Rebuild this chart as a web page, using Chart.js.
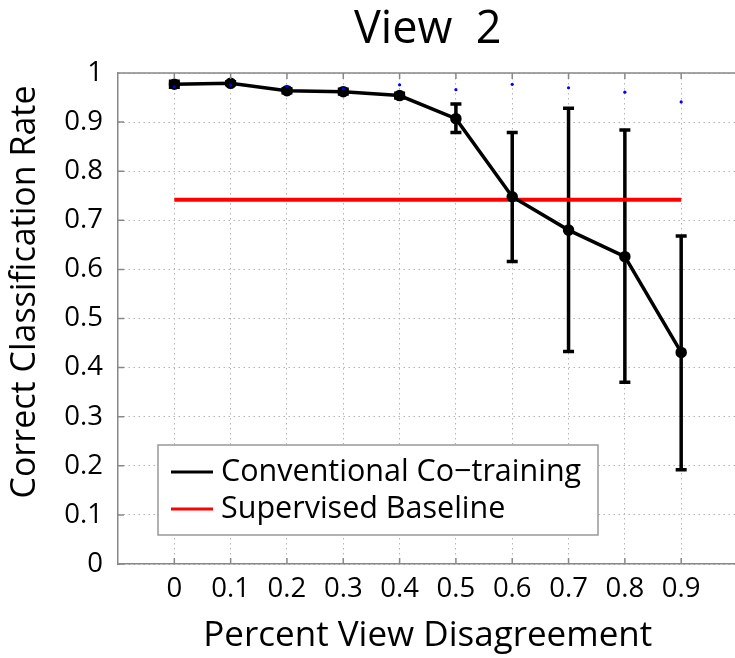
<!DOCTYPE html>
<html>
<head>
<meta charset="utf-8">
<script src="https://cdn.jsdelivr.net/npm/chart.js@4.4.1/dist/chart.umd.min.js"></script>
<style>
  body { margin: 0; background: #fff; }
  #wrap { width: 735px; height: 658px; overflow: hidden; }
</style>
</head>
<body>
<div id="wrap"><canvas id="viewChart" width="745" height="658"></canvas></div>
<script>
// percent view disagreement
const disagreement = [0, 0.1, 0.2, 0.3, 0.4, 0.5, 0.6, 0.7, 0.8, 0.9];
// conventional co-training: mean and error bar ends
const coTrainMean = [0.977, 0.979, 0.964, 0.962, 0.954, 0.907, 0.748, 0.680, 0.626, 0.431];
const coTrainLow  = [0.971, 0.976, 0.960, 0.957, 0.949, 0.879, 0.616, 0.433, 0.370, 0.192];
const coTrainHigh = [0.983, 0.982, 0.968, 0.967, 0.959, 0.937, 0.879, 0.928, 0.884, 0.668];
// small blue markers near the top
const blueDots = [0.972, 0.976, 0.973, 0.968, 0.976, 0.966, 0.977, 0.970, 0.961, 0.941];
const baselineRate = 0.742;
const yTicks = [0, 0.1, 0.2, 0.3, 0.4, 0.5, 0.6, 0.7, 0.8, 0.9, 1];

const FONT = "'Open Sans'";

const errorBars = {
  id: "errorBars",
  beforeDatasetsDraw(chart) {
    const { ctx, scales: { x, y } } = chart;
    ctx.save();
    ctx.strokeStyle = "#000";
    ctx.lineWidth = 3.5;
    disagreement.forEach(function (d, i) {
      const px = x.getPixelForValue(d);
      const lo = y.getPixelForValue(coTrainLow[i]);
      const hi = y.getPixelForValue(coTrainHigh[i]);
      ctx.beginPath();
      ctx.moveTo(px, lo); ctx.lineTo(px, hi);
      ctx.moveTo(px - 5.5, lo); ctx.lineTo(px + 5.5, lo);
      ctx.moveTo(px - 5.5, hi); ctx.lineTo(px + 5.5, hi);
      ctx.stroke();
    });
    ctx.restore();
  }
};

const frame = {
  id: "frame",
  afterDraw(chart) {
    const { ctx, chartArea: a, scales: { x, y } } = chart;
    ctx.save();
    ctx.fillStyle = "#000";
    ctx.textAlign = "center";
    ctx.textBaseline = "middle";
    // title over the plot box
    ctx.font = "45px " + FONT;
    ctx.fillText("View  2", (a.left + a.right) / 2, 30);
    // y axis title
    ctx.save();
    ctx.translate(25, 292);
    ctx.rotate(-Math.PI / 2);
    ctx.font = "34px " + FONT;
    ctx.fillText("Correct Classification Rate", 0, 0);
    ctx.restore();
    // top border and inward ticks
    ctx.strokeStyle = "#888";
    ctx.lineWidth = 1.5;
    ctx.beginPath();
    ctx.moveTo(a.left, a.top); ctx.lineTo(a.right, a.top);
    disagreement.forEach(function (d) {
      const px = x.getPixelForValue(d);
      ctx.moveTo(px, a.bottom); ctx.lineTo(px, a.bottom - 6);
      ctx.moveTo(px, a.top); ctx.lineTo(px, a.top + 6);
    });
    yTicks.forEach(function (v) {
      const py = y.getPixelForValue(v);
      ctx.moveTo(a.left, py); ctx.lineTo(a.left + 6, py);
    });
    ctx.stroke();
    // legend box
    const bx = a.left + 40, by = a.bottom - 119, bw = 440, bh = 90;
    ctx.fillStyle = "#fff";
    ctx.fillRect(bx, by, bw, bh);
    ctx.strokeStyle = "#999";
    ctx.lineWidth = 1.5;
    ctx.strokeRect(bx, by, bw, bh);
    ctx.font = "30.5px " + FONT;
    ctx.textAlign = "left";
    const items = chart.data.datasets.filter(function (ds) { return ds.label; });
    items.forEach(function (ds, i) {
      const ly = by + 27 + i * 37;
      ctx.strokeStyle = ds.borderColor;
      ctx.lineWidth = 3;
      ctx.beginPath();
      ctx.moveTo(bx + 13, ly); ctx.lineTo(bx + 55, ly);
      ctx.stroke();
      ctx.fillStyle = "#000";
      ctx.fillText(ds.label, bx + 63, ly);
    });
    ctx.restore();
  }
};

new Chart(document.getElementById("viewChart"), {
  type: "line",
  data: {
    datasets: [
      {
        label: "Conventional Co\u2212training",
        data: disagreement.map(function (d, i) { return { x: d, y: coTrainMean[i] }; }),
        borderColor: "#000",
        backgroundColor: "#000",
        borderWidth: 3.5,
        pointRadius: 4,
        pointBackgroundColor: "#000",
        tension: 0,
        order: 1
      },
      {
        label: "Supervised Baseline",
        data: [{ x: disagreement[0], y: baselineRate }, { x: disagreement[disagreement.length - 1], y: baselineRate }],
        borderColor: "#ff0000",
        borderWidth: 4,
        pointRadius: 0,
        order: 2
      },
      {
        label: "",
        data: disagreement.map(function (d, i) { return { x: d, y: blueDots[i] }; }),
        showLine: false,
        pointRadius: 1.6,
        pointBorderWidth: 0,
        pointBackgroundColor: "#0000ff",
        order: 0
      }
    ]
  },
  options: {
    responsive: false,
    animation: false,
    layout: { padding: { top: 73, right: 2, left: 0, bottom: 0 } },
    plugins: {
      legend: { display: false },
      tooltip: { enabled: false }
    },
    scales: {
      x: {
        type: "linear",
        min: -0.1,
        max: 1.0,
        afterBuildTicks: function (scale) {
          scale.ticks = disagreement.map(function (v) { return { value: v }; });
        },
        afterFit: function (scale) { scale.height = 94; },
        grid: { color: "#b4b4b4", lineWidth: 1, drawTicks: false },
        border: { color: "#888", width: 1.5, dash: [1.5, 3.5] },
        ticks: {
          color: "#000",
          padding: 9,
          maxRotation: 0,
          font: { family: FONT, size: 27.5 },
          callback: function (v) { return String(Math.round(v * 10) / 10); }
        },
        title: {
          display: true,
          text: "Percent View Disagreement",
          color: "#000",
          font: { family: FONT, size: 35 },
          padding: { top: 0, bottom: 1 }
        }
      },
      y: {
        min: 0,
        max: 1,
        afterBuildTicks: function (scale) {
          scale.ticks = yTicks.map(function (v) { return { value: v }; });
        },
        afterFit: function (scale) { scale.width = 118; },
        grid: { color: "#b4b4b4", lineWidth: 1, drawTicks: false },
        border: { color: "#888", width: 1.5, dash: [1.5, 3.5] },
        ticks: {
          color: "#000",
          padding: 15,
          font: { family: FONT, size: 27.5 },
          callback: function (v) { return String(Math.round(v * 10) / 10); }
        },
        title: { display: false }
      }
    }
  },
  plugins: [errorBars, frame]
});
</script>
</body>
</html>
